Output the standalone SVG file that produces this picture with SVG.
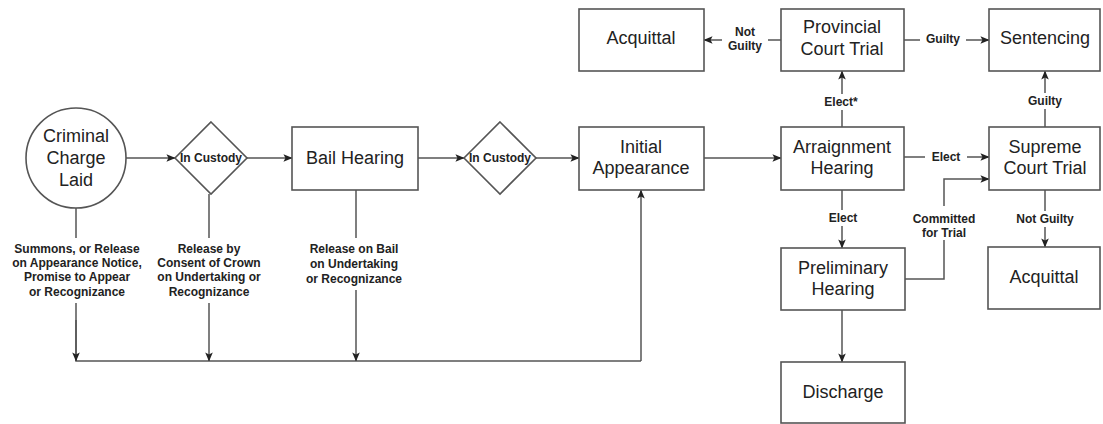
<svg xmlns="http://www.w3.org/2000/svg" width="1103" height="424" viewBox="0 0 1103 424">
<defs>
<marker id="arr" viewBox="0 0 10 10" refX="9.5" refY="5" markerWidth="9" markerHeight="9" markerUnits="userSpaceOnUse" orient="auto">
<path d="M0,0.8 L10,5 L0,9.2 L2.2,5 z" fill="#222"/>
</marker>
</defs>
<style>
.box{fill:#fff;stroke:#555;stroke-width:1.6}
.t{font-family:"Liberation Sans",Arial,sans-serif;font-size:18px;fill:#222;text-anchor:middle;dominant-baseline:central}
.l{font-family:"Liberation Sans",Arial,sans-serif;font-size:12px;font-weight:bold;fill:#222;text-anchor:middle;dominant-baseline:central}
.c{fill:none;stroke:#555;stroke-width:1.5}
.a{marker-end:url(#arr)}
.bg{fill:#fff}
</style>
<rect width="1103" height="424" fill="#fff"/>
<g id="connectors">
<path class="c a" d="M125,158 H175"/>
<path class="c a" d="M247,158 H292"/>
<path class="c a" d="M418,158 H464"/>
<path class="c a" d="M536,158 H579"/>
<path class="c a" d="M704,158 H781"/>
<path class="c" d="M76,208 V238 M76,303 V361 H641"/>
<path class="c a" d="M76,320 V361"/>
<path class="c" d="M209,194 V238"/>
<path class="c a" d="M209,303 V361"/>
<path class="c" d="M356,190 V238"/>
<path class="c a" d="M356,290 V361"/>
<path class="c a" d="M641,361 V190"/>
<path class="c a" d="M842,127 V71"/>
<path class="c a" d="M781,40 H704"/>
<path class="c a" d="M904,40 H989"/>
<path class="c a" d="M1045,127 V71"/>
<path class="c a" d="M904,157 H989"/>
<path class="c a" d="M842,190 V248"/>
<path class="c a" d="M905,279 H944 V179 H989"/>
<path class="c a" d="M1045,190 V247"/>
<path class="c a" d="M842,310 V362"/>
<rect class="bg" x="722" y="23" width="46" height="32"/>
<text class="l" x="745" y="32">Not</text>
<text class="l" x="745" y="46">Guilty</text>
<rect class="bg" x="920" y="31" width="46" height="16"/>
<text class="l" x="943" y="39">Guilty</text>
<rect class="bg" x="819" y="94" width="46" height="16"/>
<text class="l" x="841" y="102">Elect*</text>
<rect class="bg" x="1022" y="93" width="46" height="16"/>
<text class="l" x="1045" y="101">Guilty</text>
<rect class="bg" x="925" y="149" width="42" height="16"/>
<text class="l" x="946" y="157">Elect</text>
<rect class="bg" x="822" y="210" width="42" height="16"/>
<text class="l" x="843" y="218">Elect</text>
<rect class="bg" x="909" y="206" width="70" height="34"/>
<text class="l" x="944" y="219">Committed</text>
<text class="l" x="944" y="233">for Trial</text>
<rect class="bg" x="1010" y="211" width="70" height="16"/>
<text class="l" x="1045" y="219">Not Guilty</text>
<text class="l" x="77" y="249">Summons, or Release</text>
<text class="l" x="77" y="263">on Appearance Notice,</text>
<text class="l" x="77" y="277">Promise to Appear</text>
<text class="l" x="77" y="292">or Recognizance</text>
<text class="l" x="209" y="249">Release by</text>
<text class="l" x="209" y="263">Consent of Crown</text>
<text class="l" x="209" y="277">on Undertaking or</text>
<text class="l" x="209" y="292">Recognizance</text>
<text class="l" x="354" y="249">Release on Bail</text>
<text class="l" x="354" y="264">on Undertaking</text>
<text class="l" x="354" y="279">or Recognizance</text>
</g>
<g id="n-charge">
<circle class="box" cx="76" cy="158" r="50"/>
<text class="t" x="76" y="136">Criminal</text>
<text class="t" x="76" y="158">Charge</text>
<text class="t" x="76" y="180">Laid</text>
</g>
<g id="n-custody1">
<path class="box" d="M211,122 L247,158 L211,194 L175,158 z"/>
<text class="l" x="211" y="158">In Custody</text>
</g>
<g id="n-bail">
<rect class="box" x="292" y="127" width="126" height="63"/>
<text class="t" x="355" y="158">Bail Hearing</text>
</g>
<g id="n-custody2">
<path class="box" d="M500,122 L536,158 L500,194 L464,158 z"/>
<text class="l" x="500" y="158">In Custody</text>
</g>
<g id="n-initial">
<rect class="box" x="579" y="127" width="125" height="63"/>
<text class="t" x="641" y="147">Initial</text>
<text class="t" x="641" y="168">Appearance</text>
</g>
<g id="n-acquittal1">
<rect class="box" x="579" y="9" width="125" height="62"/>
<text class="t" x="641" y="38">Acquittal</text>
</g>
<g id="n-provincial">
<rect class="box" x="781" y="9" width="123" height="62"/>
<text class="t" x="842" y="27">Provincial</text>
<text class="t" x="842" y="49">Court Trial</text>
</g>
<g id="n-arraignment">
<rect class="box" x="781" y="127" width="123" height="63"/>
<text class="t" x="842" y="147">Arraignment</text>
<text class="t" x="842" y="168">Hearing</text>
</g>
<g id="n-sentencing">
<rect class="box" x="989" y="9" width="111" height="62"/>
<text class="t" x="1045" y="38">Sentencing</text>
</g>
<g id="n-supreme">
<rect class="box" x="989" y="127" width="111" height="63"/>
<text class="t" x="1045" y="147">Supreme</text>
<text class="t" x="1045" y="168">Court Trial</text>
</g>
<g id="n-preliminary">
<rect class="box" x="781" y="248" width="124" height="62"/>
<text class="t" x="843" y="268">Preliminary</text>
<text class="t" x="843" y="289">Hearing</text>
</g>
<g id="n-acquittal2">
<rect class="box" x="988" y="247" width="112" height="62"/>
<text class="t" x="1044" y="277">Acquittal</text>
</g>
<g id="n-discharge">
<rect class="box" x="781" y="362" width="124" height="61"/>
<text class="t" x="843" y="392">Discharge</text>
</g>
</svg>
